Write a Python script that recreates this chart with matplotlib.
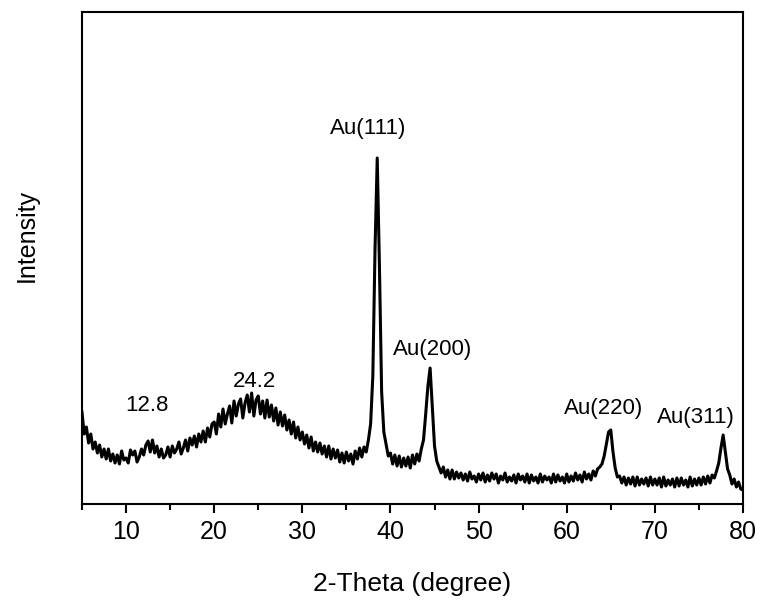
"""
XRD pattern of Au nanoparticles on support, 2-theta 5-80 degree.
"""

import numpy as np
import matplotlib.pyplot as plt

plt.rcParams['font.family'] = ['Liberation Sans', 'DejaVu Sans']

# readings every 0.25 degree from 5 to 80 (intensity, arbitrary units)
two_theta_start = 5.0
two_theta_step = 0.25
intensity = [
    92, 70, 77, 61,   70, 55, 62, 51,   59, 47, 55, 45,   55, 43, 50, 41,   # 5-8
    49, 40, 53, 44,   46, 41, 54, 49,   53, 42, 47, 55,   49, 59, 63, 52,   # 9-12
    64, 51, 58, 47,   55, 46, 49, 57,   47, 58, 51, 55,   62, 50, 56, 64,   # 13-16
    53, 66, 59, 68,   57, 70, 62, 73,   62, 76, 67, 80,   82, 70, 90, 77,   # 17-20
    95, 80, 90, 98,   81, 103, 88, 100, 105, 86, 101, 109, 92, 111, 88, 104, # 21-24
    108, 90, 103, 86, 104, 87, 99, 83,  96, 79, 92, 78,   89, 74, 84, 70,   # 25-28
    82, 66, 77, 64,   72, 60, 69, 56,   67, 53, 62, 52,   61, 50, 58, 47,   # 29-32
    58, 45, 55, 46,   54, 42, 51, 41,   52, 43, 50, 40,   53, 45, 56, 47,   # 33-36
    57, 52, 64, 80,   128, 255, 346, 238, 112, 72, 60, 48, 51, 40, 49, 38,  # 37-40
    48, 37, 46, 38,   47, 36, 49, 40,   50, 43, 55, 64,   90, 118, 136, 96, # 41-44
    58, 43, 37, 31,   37, 27, 34, 25,   34, 25, 32, 26,   31, 24, 30, 23,   # 45-48
    32, 25, 28, 22,   30, 24, 31, 22,   29, 23, 31, 25,   30, 21, 28, 24,   # 49-52
    31, 22, 27, 23,   29, 21, 30, 24,   28, 22, 30, 21,   29, 23, 27, 21,   # 53-56
    30, 22, 28, 24,   27, 21, 30, 22,   29, 23, 27, 21,   30, 22, 28, 23,   # 57-60
    31, 24, 29, 22,   32, 25, 30, 24,   33, 28, 35, 37,   40, 48, 60, 72,   # 61-64
    74, 52, 36, 27,   28, 21, 27, 19,   26, 20, 27, 18,   27, 19, 25, 20,   # 65-68
    26, 18, 27, 19,   25, 19, 26, 17,   27, 18, 24, 19,   25, 17, 26, 18,   # 69-72
    26, 19, 24, 17,   27, 18, 25, 19,   26, 19, 27, 20,   28, 21, 29, 26,   # 73-76
    33, 41, 56, 69,   52, 35, 29, 20,   25, 17, 22, 15,   14,               # 77-80
]
two_theta = two_theta_start + two_theta_step * np.arange(len(intensity))

# peak labels
peak_labels = ['Au(111)', 'Au(200)', '12.8', '24.2', 'Au(220)', 'Au(311)']
label_x = [37.5, 44.8, 12.4, 24.6, 64.2, 74.7]
label_y = [376, 155, 99, 123, 96, 87]

fig = plt.figure(figsize=(7.64, 6.01), dpi=100)
ax = fig.add_axes([0.1073, 0.1614, 0.8652, 0.8186])

ax.plot(two_theta, intensity, color='black', linewidth=2.2)

for text, x, y in zip(peak_labels, label_x, label_y):
    ax.text(x, y, text, ha='center', va='center', fontsize=16)

ax.set_xlim(5, 80)
ax.set_ylim(0, 492)
ax.set_xticks(range(10, 81, 10))
ax.set_xticks(range(5, 80, 10), minor=True)
ax.set_yticks([])
ax.tick_params(axis='x', which='major', direction='out', length=6.5, width=1.5, labelsize=18)
ax.tick_params(axis='x', which='minor', direction='out', length=4, width=1.5)
ax.tick_params(axis='x', pad=5)
for s in ax.spines.values():
    s.set_linewidth(1.5)

ax.set_xlabel("2-Theta (degree)", fontsize=19)
ax.set_ylabel("Intensity", fontsize=18)
ax.xaxis.set_label_coords(0.499, -0.138)
ax.yaxis.set_label_coords(-0.066, 0.545)

plt.savefig("out.png", dpi=100)
